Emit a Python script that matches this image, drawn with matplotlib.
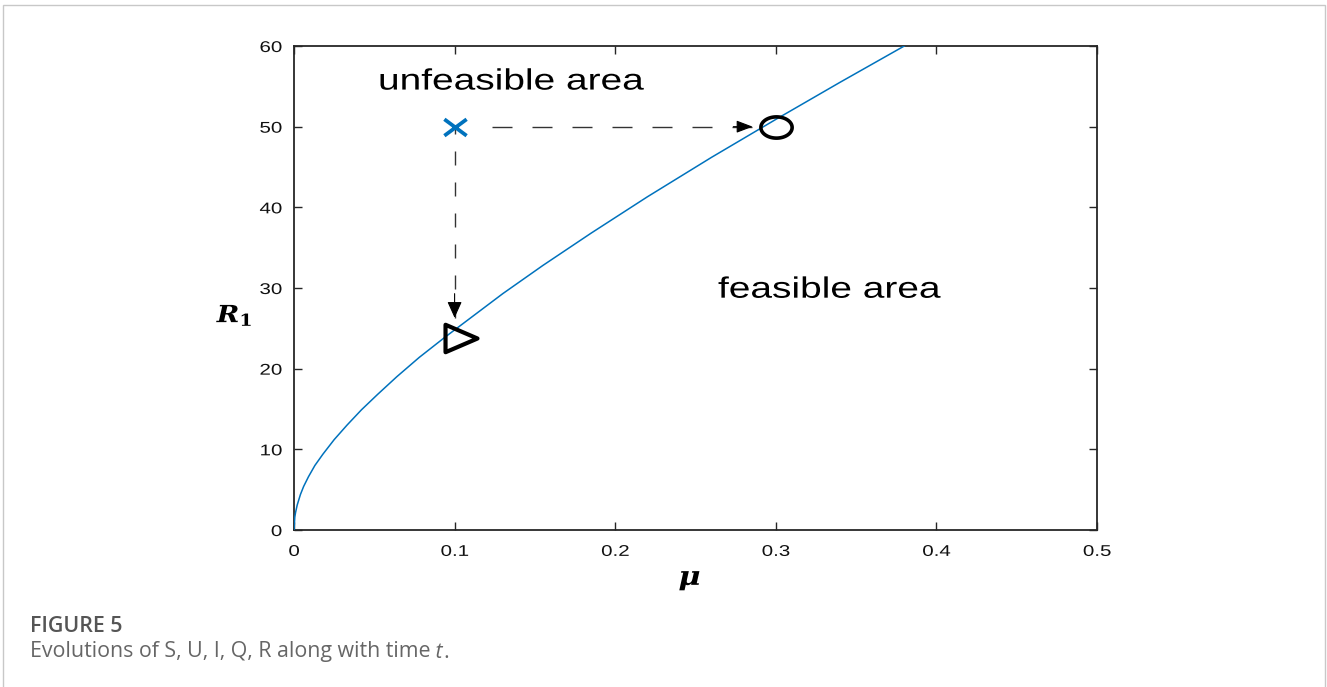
import matplotlib
matplotlib.use('Agg')
import matplotlib.pyplot as plt
import numpy as np
from matplotlib.path import Path
from matplotlib.patches import Rectangle
from matplotlib.transforms import Affine2D
from matplotlib.patheffects import AbstractPathEffect

# ---------------- data ----------------
mu_curve = [0, 0.0005, 0.001, 0.002, 0.004, 0.006, 0.009, 0.013, 0.018, 0.025,
            0.033, 0.042, 0.052, 0.064, 0.078, 0.094, 0.110, 0.130, 0.155, 0.185,
            0.220, 0.260, 0.300, 0.340, 0.380]
R_curve = [0, 1.6, 2.2, 3.1, 4.4, 5.4, 6.6, 8.0, 9.4, 11.2,
           13.0, 14.9, 16.8, 19.0, 21.4, 23.9, 26.3, 29.3, 32.8, 36.8,
           41.3, 46.2, 50.9, 55.5, 60.0]

start_point = (0.1, 50)        # blue cross (unfeasible)
circle_point = (0.3, 50)       # circle on the curve
triangle_point = (0.104, 23.8) # triangle on the curve
h_dash_start = (0.1231, 50)    # first visible horizontal dash
h_arrow_tip = (0.2856, 50)
v_arrow_tip = (0.1, 26.3)

x_ticks = [0, 0.1, 0.2, 0.3, 0.4, 0.5]
x_ticklabels = ['0', '0.1', '0.2', '0.3', '0.4', '0.5']
y_ticks = [0, 10, 20, 30, 40, 50, 60]
y_ticklabels = ['0', '10', '20', '30', '40', '50', '60']

caption_title = 'FIGURE 5'
caption_text = 'Evolutions of S, U, I, Q, R along with time'
caption_italic = ' t'


# the reference picture is stretched horizontally; reproduce that on text
class HStretch(AbstractPathEffect):
    def __init__(self, sx, anchor='left'):
        super().__init__()
        self.sx = sx
        self.anchor = anchor

    def draw_path(self, renderer, gc, tpath, affine, rgbFace=None):
        v = tpath.vertices
        if len(v):
            x0, x1 = v[:, 0].min(), v[:, 0].max()
        else:
            x0 = x1 = 0.0
        if self.anchor == 'left':
            xa = 0.0
        elif self.anchor == 'right':
            xa = x1
        else:
            xa = 0.5 * (x0 + x1)
        st = Affine2D().translate(-xa, 0).scale(self.sx, 1).translate(xa, 0)
        renderer.draw_path(gc, tpath, st + affine, rgbFace)


SX = 1.32
PX = 72 / 100  # points per pixel

# ---------------- style ----------------
plt.rcParams['font.family'] = ['Liberation Sans', 'DejaVu Sans']
plt.rcParams['mathtext.fontset'] = 'custom'
plt.rcParams['mathtext.it'] = 'DejaVu Serif:italic:bold'
plt.rcParams['mathtext.rm'] = 'DejaVu Serif:bold'
plt.rcParams['mathtext.bf'] = 'DejaVu Serif:bold'

W, H = 1327, 687
fig = plt.figure(figsize=(W / 100, H / 100), dpi=100)
ax = fig.add_axes([294 / W, 1 - 530 / H, (1097 - 294) / W, (530 - 46) / H])

blue = '#0072BD'
ax.plot(mu_curve, R_curve, color=blue, lw=1.1, zorder=3)

# custom stretched markers
cross = Path([(-1, -0.74), (1, 0.74), (-1, 0.74), (1, -0.74)],
             [Path.MOVETO, Path.LINETO, Path.MOVETO, Path.LINETO])
t = np.linspace(0, 2 * np.pi, 73)
ellipse = Path(np.column_stack([np.cos(t), 0.68 * np.sin(t)]), closed=True)
tri = Path([(-1, 0.86), (1, 0), (-1, -0.86), (-1, 0.86)],
           [Path.MOVETO, Path.LINETO, Path.LINETO, Path.CLOSEPOLY])

# dashed guide lines
dash_col = '#333333'
ax.plot([h_dash_start[0], h_arrow_tip[0]], [h_dash_start[1], h_arrow_tip[1]],
        color=dash_col, lw=1.0, linestyle=(0, (20 * PX, 20 * PX)), zorder=2)
ax.plot([start_point[0], v_arrow_tip[0]], [start_point[1], v_arrow_tip[1]],
        color=dash_col, lw=1.0, linestyle=(7 * PX, (14 * PX, 17 * PX)), zorder=2)
# arrow heads
ax.annotate('', xy=h_arrow_tip, xytext=(h_arrow_tip[0] - 0.012, h_arrow_tip[1]),
            arrowprops=dict(arrowstyle='-|>,head_length=1.0,head_width=0.38',
                            color='black', lw=0.8, shrinkA=0, shrinkB=0))
ax.annotate('', xy=v_arrow_tip, xytext=(v_arrow_tip[0], v_arrow_tip[1] + 3.0),
            arrowprops=dict(arrowstyle='-|>,head_length=1.0,head_width=0.45',
                            color='black', lw=0.8, shrinkA=0, shrinkB=0))

ax.plot([start_point[0]], [start_point[1]], linestyle='none', marker=cross,
        markersize=16, markeredgewidth=2.7, color=blue, zorder=4)
ax.plot([circle_point[0]], [circle_point[1]], linestyle='none', marker=ellipse,
        markersize=22.5, markeredgewidth=2.6, markerfacecolor='none',
        markeredgecolor='black', zorder=4)
ax.plot([triangle_point[0]], [triangle_point[1]], linestyle='none', marker=tri,
        markersize=23, markeredgewidth=3.0, markerfacecolor='none',
        markeredgecolor='black', zorder=4)

t1 = ax.text(0.0523, 54.6, 'unfeasible area', fontsize=21.2, ha='left',
             va='baseline', color='black')
t2 = ax.text(0.264, 28.8, 'feasible area', fontsize=21.2, ha='left',
             va='baseline', color='black')
for tx in (t1, t2):
    tx.set_path_effects([HStretch(SX, 'left')])

ax.set_xlim(0, 0.5)
ax.set_ylim(0, 60)
ax.set_xticks(x_ticks)
ax.set_xticklabels(x_ticklabels)
ax.set_yticks(y_ticks)
ax.set_yticklabels(y_ticklabels)
ax.tick_params(direction='in', top=True, right=True, length=6, width=1.0,
               labelsize=11.2, color='#262626', labelcolor='#111111')
ax.tick_params(axis='x', pad=10)
ax.tick_params(axis='y', pad=8.6)
for s in ax.spines.values():
    s.set_linewidth(1.3)
    s.set_color('#262626')
for lbl in ax.get_xticklabels():
    lbl.set_path_effects([HStretch(SX, 'center')])
for lbl in ax.get_yticklabels():
    lbl.set_path_effects([HStretch(SX, 'right')])

ax.set_ylabel(r'$R_1$', rotation=0, fontsize=17, ha='center', va='center')
ax.yaxis.set_label_coords(-0.0735, 0.444)
ax.yaxis.label.set_path_effects([HStretch(1.15, 'center')])
ax.set_xlabel(r'$\mu$', fontsize=19, ha='center', va='center')
ax.xaxis.set_label_coords(0.493, -0.103)
ax.xaxis.label.set_path_effects([HStretch(1.15, 'center')])

# page frame
fig.patches.append(Rectangle((3 / W, -0.02), (1325 - 3) / W, 1.02 - 5 / H,
                             transform=fig.transFigure, fill=False,
                             edgecolor='#c8c8c8', lw=1.0))

# caption
fs_cap = 15.4
fig.text(30 / W, 1 - 626 / H, caption_title, fontfamily='Open Sans',
         fontweight='semibold', fontsize=fs_cap, color='#555555', va='center')
cap = fig.text(30 / W, 1 - 652 / H, caption_text, fontfamily='Open Sans',
               fontsize=fs_cap, color='#666666', va='center')
fig.canvas.draw()
r = fig.canvas.get_renderer()
bb = cap.get_window_extent(renderer=r)
it = fig.text(bb.x1 / W, 1 - 652 / H, caption_italic, fontfamily='Open Sans',
              fontstyle='italic', fontsize=fs_cap, color='#666666', va='center')
bb2 = it.get_window_extent(renderer=r)
fig.text(bb2.x1 / W, 1 - 652 / H, '.', fontfamily='Open Sans',
         fontsize=fs_cap, color='#666666', va='center')

fig.savefig('out.png', dpi=100)
